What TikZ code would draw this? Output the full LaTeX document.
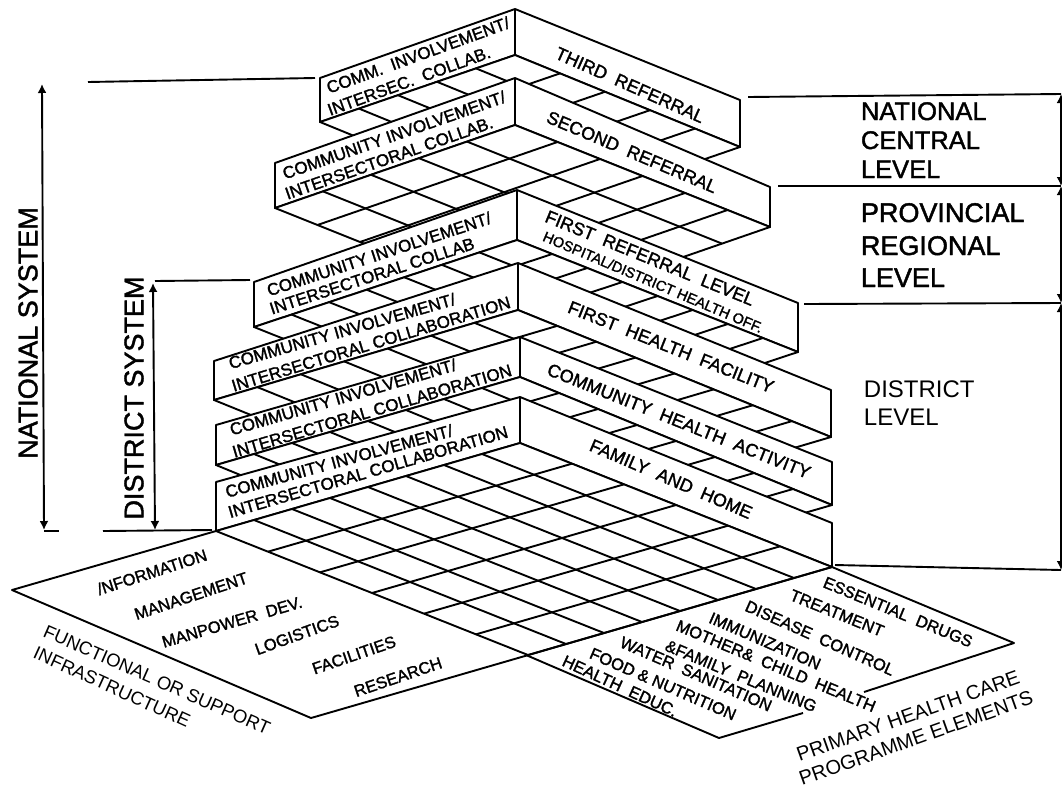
\documentclass[tikz,border=0pt]{standalone}
\usepackage{fontspec}
\setmainfont{Liberation Sans}
\newfontfamily\scanfont[FakeBold=1.6]{Liberation Sans}
\usetikzlibrary{calc, arrows.meta}
\begin{document}
\begin{tikzpicture}[x = 1pt, y = -1pt, line width = 1.9pt, line join = round]
	\tikzstyle{every node} = [inner sep = 0, align = left]
	\tikzstyle{walltext} = [font = \scanfont\fontsize{17}{17}\selectfont]
	\tikzstyle{nametext} = [font = \scanfont\fontsize{18}{18}\selectfont]
	\tikzstyle{platetext} = [font = \scanfont\fontsize{16.5}{16.5}\selectfont]
	\tikzstyle{sidetext} = [font = \fontsize{18.5}{18.5}\selectfont]
	\tikzstyle{caretext} = [font = \fontsize{20}{20}\selectfont]
	\tikzstyle{leveltext} = [font = \scanfont\fontsize{25.5}{25.5}\selectfont, anchor = base west]
	\tikzstyle{systemtext} = [font = \scanfont\fontsize{27}{27}\selectfont, rotate = 90]
	\tikzstyle{twotip} = [{Latex[length = 9pt, width = 9pt]}-{Latex[length = 9pt, width = 9pt]}]
	\useasboundingbox (0,0) rectangle (1062,785);

	% blocks from the top one down, each covers the floor of the one above
	\foreach \lx/\ly/\ld/\cx/\cy/\cd/\rx/\ry/\rd/\n/\m in
	{320/78/122/515/9/55/740/100/147/5/5,
	 275/163/208/515/78/125/770/187/227/5/6,
	 254/282/327/517/190/240/798/303/352/7/8,
	 214/361/400/518/263/310/831/390/437/7/8,
	 216/425/465/520/337/377/832/462/505/8/8,
	 216/482/531/520/397/443/832/523/567/8/6}
	{
		\filldraw [fill = white] (\lx,\ly) -- (\cx,\cy) -- (\rx,\ry) -- (\rx,\rd) -- (\cx,\cd) -- (\lx,\ld) -- cycle;
		\draw (\cx,\cy) -- (\cx,\cd);
		\coordinate (a) at (\lx,\ld);
		\coordinate (b) at (\cx,\cd);
		\coordinate (c) at (\rx,\rd);
		\coordinate (d) at ($(a)+(c)-(b)$);
		\filldraw [fill = white] (a) -- (b) -- (c) -- (d) -- cycle;
		\pgfmathtruncatemacro{\nn}{\n-1}
		\pgfmathtruncatemacro{\mm}{\m-1}
		\foreach \i in {1,...,\nn}
		{
			\draw ($(a)!\i/\n!(b)$) -- ($(d)!\i/\n!(c)$);
		}
		\foreach \j in {1,...,\mm}
		{
			\draw ($(a)!\j/\m!(d)$) -- ($(b)!\j/\m!(c)$);
		}
	}

	% the two plates in front
	\coordinate (leftback) at (216,531);
	\coordinate (leftend) at (12,590);
	\coordinate (leftfront) at (311,718);
	\coordinate (rightback) at (832,567);
	\coordinate (rightend) at (1014,643);
	\coordinate (rightgap) at (864,692);
	\coordinate (frontgap) at (803,713);
	\coordinate (rightfront) at (719,738);
	\coordinate (rightstart) at (526,655);
	\draw (leftback) -- (leftend) -- (leftfront) -- (rightback);
	\draw (rightback) -- (rightend) -- (rightgap);
	\draw (frontgap) -- (rightfront) -- (rightstart);

	% system arrows on the left
	\coordinate (nattop) at (42,84);
	\coordinate (natbot) at (44,530);
	\coordinate (distop) at (153,283);
	\coordinate (disbot) at (155,530);
	\draw [twotip] (nattop) -- (natbot);
	\draw [twotip] (distop) -- (disbot);
	\draw (88,82) -- (315,78);
	\draw (44,531) -- (59,531);
	\draw (155,281) -- (250,280);
	\draw (103,531) -- (212,530);

	% level lines and arrows on the right
	\coordinate (lev1) at (1061,94);
	\coordinate (lev2) at (1061,186);
	\coordinate (lev3) at (1061,303);
	\coordinate (lev4) at (1061,570);
	\draw (748,97) -- (lev1);
	\draw (778,186) -- (lev2);
	\draw (804,304) -- (lev3);
	\draw (835,565) -- (lev4);
	\draw [twotip] (lev1) -- (lev2);
	\draw [twotip] (lev2) -- (lev3);
	\draw [twotip] (lev3) -- (lev4);

	% walls, left side
	\node (third1) [walltext, rotate = 20] at (418,55) {COMM.\ \ INVOLVEMENT/};
	\node (third2) [walltext, rotate = 20] at (409,81) {INTERSEC.\ \ COLLAB.};
	\node (second1) [walltext, rotate = 19.3] at (394,135) {COMMUNITY INVOLVEMENT/};
	\node (second2) [walltext, rotate = 19.3] at (389,158) {INTERSECTORAL COLLAB.};
	\node (first1) [walltext, rotate = 18.2] at (379,254) {COMMUNITY INVOLVEMENT/};
	\node (first2) [walltext, rotate = 18] at (372,276) {INTERSECTORAL COLLAB};
	\node (health1) [walltext, rotate = 16] at (342,331) {COMMUNITY INVOLVEMENT/};
	\node (health2) [walltext, rotate = 16.9] at (371,344) {INTERSECTORAL COLLABORATION};
	\node (comm1) [walltext, rotate = 16.2] at (343,397) {COMMUNITY INVOLVEMENT/};
	\node (comm2) [walltext, rotate = 16.5] at (372,411) {INTERSECTORAL COLLABORATION};
	\node (home1) [walltext, rotate = 15.3] at (339,461) {COMMUNITY INVOLVEMENT/};
	\node (home2) [walltext, rotate = 16.2] at (368,472) {INTERSECTORAL COLLABORATION};

	% walls, right side
	\node (thirdname) [nametext, rotate = -24] at (630,85) {THIRD\ \ REFERRAL};
	\node (secondname) [nametext, rotate = -23] at (632,152) {SECOND\ \ REFERRAL};
	\node (firstname) [nametext, rotate = -22.2] at (650,258) {FIRST\ \ REFERRAL\ \ LEVEL};
	\node (firstoff) [rotate = -23, font = \scanfont\fontsize{14.5}{14.5}\selectfont] at (653,282) {HOSPITAL/DISTRICT HEALTH OFF.};
	\node (healthname) [nametext, rotate = -21.7] at (671,347) {FIRST\ \ HEALTH\ \ FACILITY};
	\node (commname) [nametext, rotate = -21.8] at (679,421) {COMMUNITY\ \ HEALTH\ \ ACTIVITY};
	\node (homename) [nametext, rotate = -23.3] at (671,479) {FAMILY\ \ AND\ \ HOME};

	% left plate
	\node (info) [platetext, rotate = 18] at (152,572) {/NFORMATION};
	\node (manage) [platetext, rotate = 18.4] at (191,596) {MANAGEMENT};
	\node (manpower) [platetext, rotate = 16.3] at (232,622) {MANPOWER\ \ DEV.};
	\node (logistics) [platetext, rotate = 19.8] at (297,635) {LOGISTICS};
	\node (facilities) [platetext, rotate = 19] at (354,655) {FACILITIES};
	\node (research) [platetext, rotate = 18.8] at (398,677) {RESEARCH};
	\node (functional) [sidetext, rotate = -23.8] at (157,680) {FUNCTIONAL OR SUPPORT};
	\node (infra) [sidetext, rotate = -24.5] at (112,687) {INFRASTRUCTURE};

	% right plate
	\node (drugs) [platetext, rotate = -22.4] at (898,612) {ESSENTIAL\ \ DRUGS};
	\node (treatment) [platetext, rotate = -22] at (837,613) {TREATMENT};
	\node (disease) [platetext, rotate = -24] at (820,638) {DISEASE\ \ CONTROL};
	\node (immun) [platetext, rotate = -23.5] at (765,641) {IMMUNIZATION};
	\node (mother) [platetext, rotate = -22.6] at (776,666) {MOTHER\&\ \ CHILD\ \ HEALTH};
	\node (family) [platetext, rotate = -22.6] at (741,676) {\&FAMILY\ \ PLANNING};
	\node (water) [platetext, rotate = -23.5] at (696,674) {WATER\ \ SANITATION};
	\node (food) [platetext, rotate = -23.5] at (663,684) {FOOD\ \&\ NUTRITION};
	\node (educ) [platetext, rotate = -24.7] at (620,686) {HEALTH\ \ EDUC.};
	\node (primary) [caretext, rotate = 19.6] at (908,716) {PRIMARY HEALTH CARE};
	\node (programme) [caretext, rotate = 19.6] at (916,738) {PROGRAMME ELEMENTS};

	% level names
	\node (lev11) [leveltext] at (860,120) {NATIONAL};
	\node (lev12) [leveltext] at (860,149) {CENTRAL};
	\node (lev13) [leveltext] at (860,178) {LEVEL};
	\node (lev21) [leveltext, font = \scanfont\fontsize{27}{27}\selectfont] at (860,222) {PROVINCIAL};
	\node (lev22) [leveltext, font = \scanfont\fontsize{27}{27}\selectfont] at (860,255) {REGIONAL};
	\node (lev23) [leveltext, font = \scanfont\fontsize{27}{27}\selectfont] at (860,287) {LEVEL};
	\node (lev31) [leveltext, font = \fontsize{24}{24}\selectfont] at (863,397) {DISTRICT};
	\node (lev32) [leveltext, font = \fontsize{24}{24}\selectfont] at (863,425) {LEVEL};
	\node (natsys) [systemtext] at (28,333) {NATIONAL SYSTEM};
	\node (dissys) [systemtext] at (134,398) {DISTRICT SYSTEM};
\end{tikzpicture}
\end{document}
